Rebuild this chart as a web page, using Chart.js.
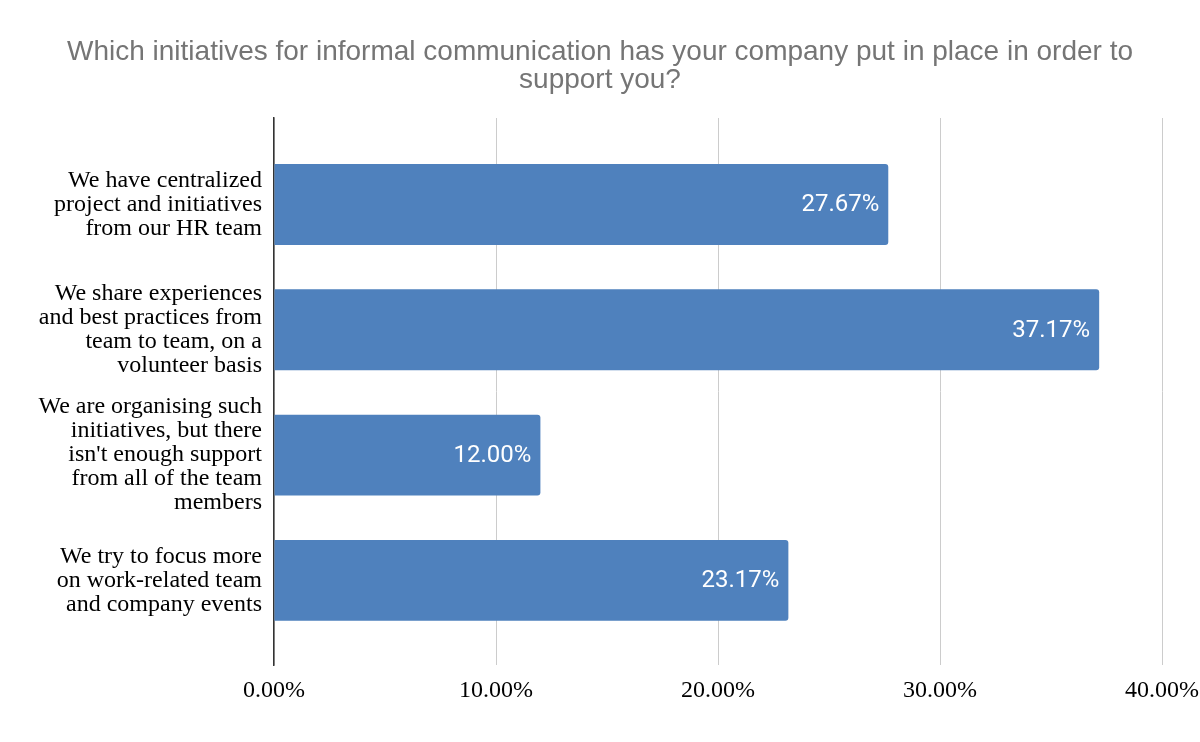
<!DOCTYPE html>
<html>
<head>
<meta charset="utf-8">
<script src="https://cdn.jsdelivr.net/npm/chart.js@4.4.1/dist/chart.umd.min.js"></script>
<style>
  html, body { margin: 0; padding: 0; background: #fff; }
  #wrap { width: 1200px; height: 742px; }
</style>
</head>
<body>
<div id="wrap"><canvas id="chart"></canvas></div>
<script>
const titleLines = ['Which initiatives for informal communication has your company put in place in order to', 'support you?'];

const categories = [
    ['We have centralized', 'project and initiatives', 'from our HR team'],
    ['We share experiences', 'and best practices from', 'team to team, on a', 'volunteer basis'],
    ['We are organising such', 'initiatives, but there', "isn't enough support", 'from all of the team', 'members'],
    ['We try to focus more', 'on work-related team', 'and company events']
];
const shares = [27.67, 37.17, 12.00, 23.17];
const xTicks = [0, 10, 20, 30, 40];

const serif = '"Liberation Serif", "Times New Roman", serif';

// white value labels at the end of each bar
const barValueLabels = {
    id: 'barValueLabels',
    afterDatasetsDraw(chart) {
        const ctx = chart.ctx;
        const meta = chart.getDatasetMeta(0);
        ctx.save();
        ctx.fillStyle = '#ffffff';
        ctx.font = '24px Roboto, "Liberation Sans", Arial, sans-serif';
        ctx.textAlign = 'right';
        ctx.textBaseline = 'middle';
        meta.data.forEach((bar, i) => {
            ctx.fillText(shares[i].toFixed(2) + '%', bar.x - 9, bar.y + 1);
        });
        ctx.restore();
    }
};

new Chart(document.getElementById('chart'), {
    type: 'bar',
    data: {
        datasets: [{
            data: shares.map((v, i) => ({ x: v, y: i })),
            backgroundColor: '#4f81bd',
            borderRadius: 3,
            barPercentage: 0.645,
            categoryPercentage: 1
        }]
    },
    options: {
        indexAxis: 'y',
        responsive: true,
        maintainAspectRatio: false,
        animation: false,
        layout: { padding: { left: 0, right: 0, top: 0, bottom: 25 } },
        scales: {
            x: {
                type: 'linear',
                min: 0,
                max: 40,
                bounds: 'data',
                afterBuildTicks: scale => { scale.ticks = xTicks.map(v => ({ value: v })); },
                afterFit: scale => { scale.paddingLeft = 0; scale.paddingRight = 38; },
                grid: { color: '#cccccc', lineWidth: 1, drawTicks: false },
                border: { display: false },
                ticks: {
                    padding: 14,
                    color: '#000',
                    font: { family: serif, size: 24, lineHeight: 1 },
                    callback: v => v.toFixed(2) + '%'
                }
            },
            y: {
                type: 'linear',
                reverse: true,
                offset: false,
                min: -0.69,
                max: 3.675,
                bounds: 'data',
                afterBuildTicks: scale => { scale.ticks = categories.map((c, i) => ({ value: i })); },
                afterFit: scale => { scale.width = 274; scale.paddingTop = 0; scale.paddingBottom = 0; },
                grid: { display: false, drawTicks: false },
                border: { display: true, color: '#333333', width: 1.5 },
                ticks: {
                    padding: 12,
                    color: '#000',
                    font: { family: serif, size: 24, lineHeight: 1 },
                    callback: v => categories[v]
                }
            }
        },
        plugins: {
            legend: { display: false },
            tooltip: { enabled: false },
            title: {
                display: true,
                text: titleLines,
                color: '#757575',
                font: { family: '"Liberation Sans", Arial, sans-serif', size: 28, weight: 'normal', lineHeight: 1 },
                padding: { top: 38, bottom: 24 }
            }
        }
    },
    plugins: [barValueLabels]
});
</script>
</body>
</html>
